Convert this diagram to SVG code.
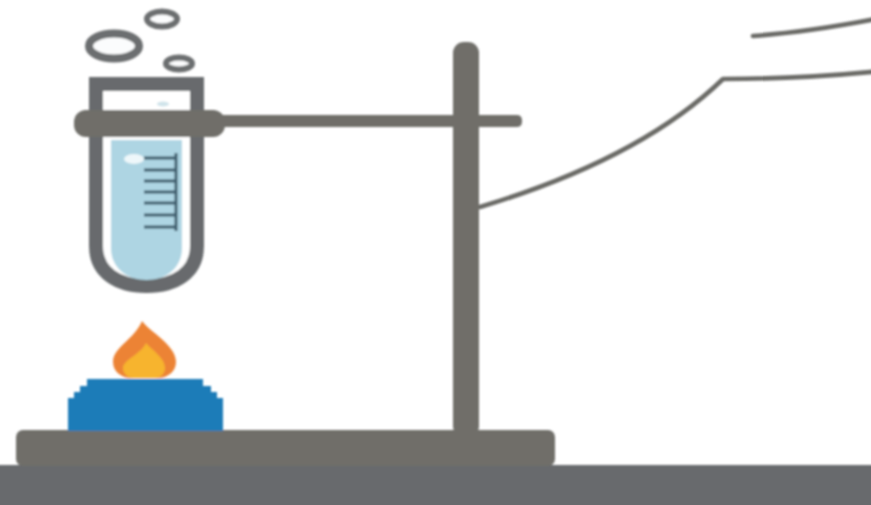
<svg xmlns="http://www.w3.org/2000/svg" width="871" height="505" viewBox="0 0 871 505">
<defs>
<filter id="soft" x="-5%" y="-5%" width="110%" height="110%"><feGaussianBlur stdDeviation="1.3"/></filter>
<style>
.stand{fill:#6f6e69}
.wire{fill:none;stroke:#6a6a66;stroke-width:4.6;stroke-linecap:round;stroke-linejoin:round}
.bubble{fill:#fbfcfd;stroke:#6c6e70}
.tick{stroke:#3d5c6c;stroke-width:3;fill:none}
.burner{fill:#1d7bb8}
</style>
</defs>
<rect width="871" height="505" fill="#ffffff"/>
<g filter="url(#soft)">
<g id="floor"><rect x="-10" y="465" width="891" height="50" fill="#676a6d"/></g>
<g id="connectors">
<path class="wire" d="M480 207C570 180 660 140 723 79C770 79 820 77 881 71"/>
<path class="wire" d="M753 36C795 33 835 27 881 18"/>
</g>
<g id="bubbles">
<ellipse class="bubble" cx="114" cy="46" rx="25" ry="12.500" stroke-width="8"/>
<ellipse class="bubble" cx="162" cy="19" rx="15" ry="7.500" stroke-width="6"/>
<ellipse class="bubble" cx="179" cy="63.500" rx="13" ry="6" stroke-width="6"/>
</g>
<g id="test-tube">
<path d="M96 84H197V246C197 273 175 286 146.500 286C118 286 96 273 96 246Z" fill="#ffffff" stroke="#676a6d" stroke-width="14" stroke-linejoin="miter"/>
<rect x="89" y="78" width="115" height="10" fill="#676a6d"/>
<path d="M111 140H182V248C182 268 166 280 146.500 280C127 280 111 268 111 248Z" fill="#aed5e3"/>
<ellipse cx="134" cy="159" rx="10" ry="5" fill="#eef7fa"/>
<ellipse cx="163" cy="104" rx="6" ry="2.500" fill="#cfe3ea"/>
<path class="tick" d="M176 153V231M144 158H176M144 170H176M144 181H176M144 192H176M144 203H176M144 215H176M144 227H176"/>
</g>
<g id="stand">
<rect class="stand" x="453" y="42" width="26" height="395" rx="11"/>
<rect class="stand" x="16" y="430" width="539" height="36" rx="7"/>
</g>
<g id="clamp">
<path class="stand" d="M215 115H517C521 115 522 118 522 121C522 124 521 127 517 127H215Z"/>
<rect class="stand" x="74" y="110" width="151" height="27" rx="12"/>
</g>
<g id="burner">
<path class="burner" d="M87 379H203V386H211V392H217V398H223V431H68V398H74V392H80V386H87Z"/>
</g>
<g id="flame">
<path d="M142 321C150 332 176 345 176 362C176 372 167 378 158 378H131C122 378 113 372 113 362C113 347 134 340 142 321Z" fill="#ec8336"/>
<path d="M146 343C152 350 165 358 165 368C165 374 160 378 155 378H134C128 378 123 374 123 368C123 360 141 354 146 343Z" fill="#f7b42f"/>
</g>
</g>
</svg>
